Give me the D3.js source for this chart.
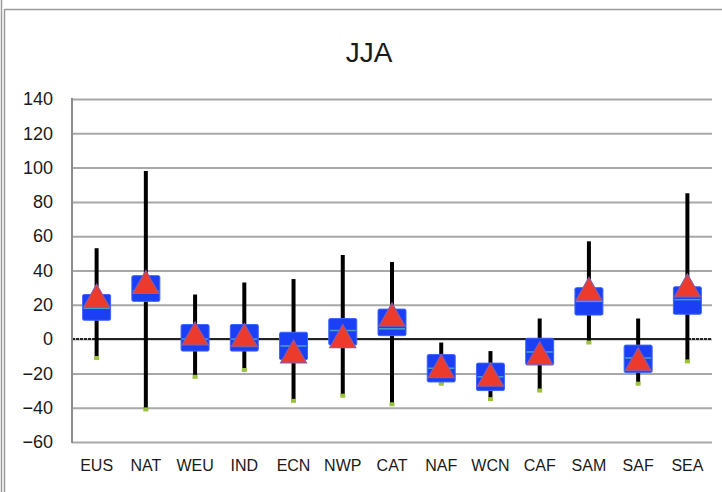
<!DOCTYPE html>
<html>
<head>
<meta charset="utf-8">
<script src="https://cdn.jsdelivr.net/npm/d3@7"></script>
<style>
  body { margin: 0; background: #fff; }
  text { font-family: "Liberation Sans", Arial, sans-serif; fill: #1a1a1a; }
</style>
</head>
<body>
<svg></svg>
<script>
// JJA values
var regions = ["EUS", "NAT", "WEU", "IND", "ECN", "NWP", "CAT", "NAF", "WCN", "CAF", "SAM", "SAF", "SEA"];
var whiskerTop = [53, 98, 26, 33, 35, 49, 45, -2, -7, 12, 57, 12, 85];
var whiskerBottom = [-11, -41, -22, -18, -36, -33, -38, -26, -35, -30, -2, -26, -13];
var boxTop = [26, 37, 8.5, 8.5, 4, 12, 17.5, -9, -14, 0.5, 30, -3.5, 30.5];
var boxBottom = [11, 22, -7, -7, -12, -3.5, 2, -25, -30, -15, 14, -19.5, 14.5];
var medians = [18, 28, 0, 0, -4, 5, 6, -17, -22, -7.5, 22, -11, 23];
var means = [25, 33, 3, 2, -7.5, 1.5, 14, -16, -21, -8.5, 29, -12, 31];
var yTicks = [-60, -40, -20, 0, 20, 40, 60, 80, 100, 120, 140];

var screen = {width: 722, height: 492};
var margins = {top: 99, right: 10, bottom: 50, left: 72};

var stats = regions.map(function (r, i) {
    return {name: r, hi: whiskerTop[i], lo: whiskerBottom[i], q3: boxTop[i],
            q1: boxBottom[i], med: medians[i], mean: means[i]};
});

var svg = d3.select("svg")
    .attr("width", screen.width)
    .attr("height", screen.height);

// chart frame
svg.append("line").attr("x1", 1.5).attr("x2", 1.5).attr("y1", 0).attr("y2", screen.height)
    .attr("stroke", "#9a9a9a").attr("stroke-width", 1.5);
svg.append("line").attr("x1", 4.5).attr("x2", 4.5).attr("y1", 9).attr("y2", screen.height)
    .attr("stroke", "#9a9a9a").attr("stroke-width", 1.5);
svg.append("line").attr("x1", 4.5).attr("x2", screen.width).attr("y1", 9.5).attr("y2", 9.5)
    .attr("stroke", "#9a9a9a").attr("stroke-width", 1.5);

var xScale = d3.scaleBand().domain(regions).range([72, 712]);
var yScale = d3.scaleLinear().domain([-60, 140]).range([442, 99]);

svg.append("text")
    .attr("x", 369).attr("y", 62)
    .attr("text-anchor", "middle")
    .style("font-size", "28px")
    .text("JJA");

// gridlines + y labels
var yAxis = d3.axisLeft(yScale).tickValues(yTicks).tickSize(-(712 - 72)).tickPadding(19);
var gy = svg.append("g").attr("transform", "translate(72,0)").call(yAxis);
gy.select(".domain").remove();
gy.selectAll(".tick line").attr("stroke", "#a8a8a8").attr("stroke-width", 2);
gy.selectAll(".tick text").style("font-size", "18px").attr("fill", "#1a1a1a");

// zero line
svg.append("line")
    .attr("x1", 72).attr("x2", 712)
    .attr("y1", yScale(0)).attr("y2", yScale(0))
    .attr("stroke", "#222").attr("stroke-width", 2).attr("stroke-dasharray", "3,1");
svg.append("line")
    .attr("x1", xScale("EUS") + xScale.bandwidth() / 2).attr("x2", xScale("SEA") + xScale.bandwidth() / 2)
    .attr("y1", yScale(0)).attr("y2", yScale(0))
    .attr("stroke", "#222").attr("stroke-width", 2);

// y axis line
svg.append("line").attr("x1", 72).attr("x2", 72).attr("y1", 98).attr("y2", 443)
    .attr("stroke", "#8c8c8c").attr("stroke-width", 2);

// x labels
var xAxis = d3.axisBottom(xScale).tickSize(0).tickPadding(18);
var gx = svg.append("g").attr("transform", "translate(0,442)").call(xAxis);
gx.select(".domain").remove();
gx.selectAll(".tick text").style("font-size", "16px").attr("fill", "#1a1a1a");

var cx = function (d) { return xScale(d.name) + xScale.bandwidth() / 2; };

var g = svg.append("g").attr("id", "boxes");

g.selectAll(".whisker").data(stats).enter().append("line")
    .attr("x1", cx).attr("x2", cx)
    .attr("y1", function (d) { return yScale(d.hi); })
    .attr("y2", function (d) { return yScale(d.lo); })
    .attr("stroke", "#000").attr("stroke-width", 4);

g.selectAll(".lowdot").data(stats).enter().append("rect")
    .attr("x", function (d) { return cx(d) - 2.5; })
    .attr("y", function (d) { return yScale(d.lo) - 2; })
    .attr("width", 5).attr("height", 4)
    .attr("fill", "#9ac23c");

g.selectAll(".box").data(stats).enter().append("rect")
    .attr("x", function (d) { return cx(d) - 14; })
    .attr("y", function (d) { return yScale(d.q3); })
    .attr("width", 28)
    .attr("height", function (d) { return yScale(d.q1) - yScale(d.q3); })
    .attr("rx", 1.5)
    .attr("fill", "#1a3ff5").attr("stroke", "#3f66ff").attr("stroke-width", 1);

g.selectAll(".median").data(stats).enter().append("line")
    .attr("x1", function (d) { return cx(d) - 13; })
    .attr("x2", function (d) { return cx(d) + 13; })
    .attr("y1", function (d) { return yScale(d.med); })
    .attr("y2", function (d) { return yScale(d.med); })
    .attr("stroke", "#4aa0cc").attr("stroke-width", 1.5);

g.selectAll(".mean").data(stats).enter().append("path")
    .attr("transform", function (d) { return "translate(" + cx(d) + "," + yScale(d.mean) + ")"; })
    .attr("d", "M0,-12L13,11L-13,11Z")
    .attr("fill", "#ec3b2c").attr("stroke", "#8e5aa0").attr("stroke-width", 1.2);
</script>
</body>
</html>
